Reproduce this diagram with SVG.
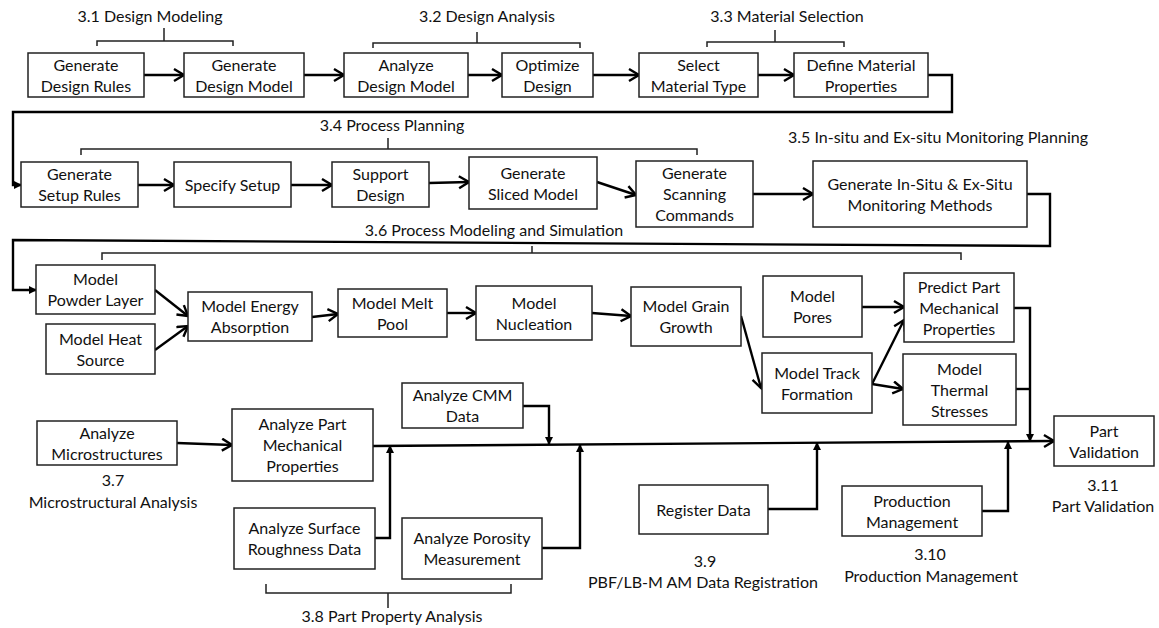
<svg xmlns="http://www.w3.org/2000/svg" width="1159" height="628" viewBox="0 0 1159 628">
<style>
.box{fill:#fff;stroke:#222;stroke-width:1.5}
text{font-family:Lato,"Open Sans",sans-serif;font-size:16px;fill:#111;text-anchor:middle}
.c{fill:none;stroke:#000;stroke-width:2.4}
.ca{fill:none;stroke:#000;stroke-width:2.4;marker-end:url(#ah)}
.cs{fill:none;stroke:#000;stroke-width:2.4;marker-end:url(#as)}
.br{fill:none;stroke:#222;stroke-width:1.5}
</style>
<defs>
<marker id="ah" markerUnits="userSpaceOnUse" markerWidth="14" markerHeight="16" refX="11" refY="7" orient="auto">
<path d="M1,1 L11,7 L1,13" fill="none" stroke="#000" stroke-width="2.4"/>
</marker>
<marker id="as" markerUnits="userSpaceOnUse" markerWidth="10" markerHeight="10" refX="7" refY="4" orient="auto">
<path d="M0,0 L8,4 L0,8 Z" fill="#000"/>
</marker>
</defs>
<rect width="1159" height="628" fill="#fff"/>

<g id="connectors">
<line class="ca" x1="144" y1="75" x2="184" y2="75"/>
<line class="ca" x1="304" y1="75" x2="344" y2="75"/>
<line class="ca" x1="468" y1="75" x2="502" y2="75"/>
<line class="ca" x1="593" y1="75" x2="639" y2="75"/>
<line class="ca" x1="758" y1="75" x2="794" y2="75"/>
<polyline class="cs" points="928,75 952,75 952,112 13,112 13,185 21,185"/>
<line class="ca" x1="138" y1="185" x2="174" y2="185"/>
<line class="ca" x1="291" y1="185" x2="332" y2="185"/>
<line class="ca" x1="429" y1="183" x2="469" y2="182"/>
<line class="ca" x1="597" y1="182" x2="636" y2="195"/>
<line class="ca" x1="753" y1="194" x2="813" y2="194"/>
<polyline class="cs" points="1027,194 1050,194 1050,246 13,240 13,290 36,290"/>
<line class="ca" x1="155" y1="290" x2="188" y2="316"/>
<line class="ca" x1="155" y1="350" x2="188" y2="326"/>
<line class="ca" x1="312" y1="317" x2="338" y2="314"/>
<line class="ca" x1="447" y1="313" x2="476" y2="313"/>
<line class="ca" x1="592" y1="313" x2="631" y2="316"/>
<line class="ca" x1="741" y1="316" x2="761" y2="388"/>
<line class="ca" x1="862" y1="307" x2="904" y2="307"/>
<line class="ca" x1="872" y1="384" x2="904" y2="320"/>
<line class="ca" x1="872" y1="384" x2="903" y2="389"/>
<polyline class="cs" points="1014,308 1030,308 1030,441"/>
<polyline class="c" points="1016,389 1030,389"/>
<line class="ca" x1="373" y1="446" x2="1054" y2="441"/>
<line class="ca" x1="177" y1="443" x2="232" y2="445"/>
<polyline class="cs" points="375,538 390,538 390,446"/>
<polyline class="cs" points="523,406 549,406 549,444"/>
<polyline class="cs" points="542,548 580,548 580,445"/>
<polyline class="cs" points="768,509 817,509 817,443"/>
<polyline class="cs" points="982,511 1008,511 1008,442"/>
</g>

<g id="groups">
<path class="br" d="M97,46 V41 H233 V46 M164,41 V28"/>
<text x="150" y="22">3.1 Design Modeling</text>
<path class="br" d="M373,48 V43 H580 V48 M477,43 V32"/>
<text x="487" y="22">3.2 Design Analysis</text>
<path class="br" d="M707,47 V42 H844 V47 M775,42 V30"/>
<text x="787" y="22">3.3 Material Selection</text>
<path class="br" d="M81,155 V149 H697 V155 M388,149 V138"/>
<text x="392" y="131">3.4 Process Planning</text>
<text x="938" y="143">3.5 In-situ and Ex-situ Monitoring Planning</text>
<path class="br" d="M102,260 V253 H961 V260 M532,253 V246"/>
<text x="494" y="236">3.6 Process Modeling and Simulation</text>
<text x="113" y="486">3.7</text>
<text x="113" y="508">Microstructural Analysis</text>
<path class="br" d="M266,584 V593 H511 V584 M388,593 V608"/>
<text x="392" y="622">3.8 Part Property Analysis</text>
<text x="705" y="567">3.9</text>
<text x="703" y="588">PBF/LB-M AM Data Registration</text>
<text x="930" y="560">3.10</text>
<text x="931" y="582">Production Management</text>
<text x="1103" y="491">3.11</text>
<text x="1103" y="512">Part Validation</text>
</g>

<g id="n1"><rect class="box" x="28" y="53" width="116" height="44"/><text x="86" y="70.5">Generate</text><text x="86" y="91.5">Design Rules</text></g>
<g id="n2"><rect class="box" x="184" y="53" width="120" height="44"/><text x="244" y="70.5">Generate</text><text x="244" y="91.5">Design Model</text></g>
<g id="n3"><rect class="box" x="344" y="53" width="124" height="44"/><text x="406" y="70.5">Analyze</text><text x="406" y="91.5">Design Model</text></g>
<g id="n4"><rect class="box" x="502" y="53" width="91" height="44"/><text x="547.5" y="70.5">Optimize</text><text x="547.5" y="91.5">Design</text></g>
<g id="n5"><rect class="box" x="639" y="53" width="119" height="44"/><text x="698.5" y="70.5">Select</text><text x="698.5" y="91.5">Material Type</text></g>
<g id="n6"><rect class="box" x="794" y="53" width="134" height="44"/><text x="861" y="70.5">Define Material</text><text x="861" y="91.5">Properties</text></g>

<g id="n7"><rect class="box" x="21" y="162" width="117" height="45"/><text x="79.5" y="180">Generate</text><text x="79.5" y="201">Setup Rules</text></g>
<g id="n8"><rect class="box" x="174" y="162" width="117" height="45"/><text x="232.5" y="190.5">Specify Setup</text></g>
<g id="n9"><rect class="box" x="332" y="162" width="97" height="45"/><text x="380.5" y="180">Support</text><text x="380.5" y="201">Design</text></g>
<g id="n10"><rect class="box" x="469" y="157" width="128" height="52"/><text x="533" y="178.5">Generate</text><text x="533" y="199.5">Sliced Model</text></g>
<g id="n11"><rect class="box" x="636" y="161" width="117" height="66"/><text x="694.5" y="179">Generate</text><text x="694.5" y="200">Scanning</text><text x="694.5" y="221">Commands</text></g>
<g id="n12"><rect class="box" x="813" y="161" width="214" height="66"/><text x="920" y="189.5">Generate In-Situ &amp; Ex-Situ</text><text x="920" y="210.5">Monitoring Methods</text></g>

<g id="n13"><rect class="box" x="36" y="265" width="119" height="49"/><text x="95.5" y="285">Model</text><text x="95.5" y="306">Powder Layer</text></g>
<g id="n14"><rect class="box" x="46" y="324" width="109" height="50"/><text x="100.5" y="344.5">Model Heat</text><text x="100.5" y="365.5">Source</text></g>
<g id="n15"><rect class="box" x="188" y="292" width="124" height="49"/><text x="250" y="312">Model Energy</text><text x="250" y="333">Absorption</text></g>
<g id="n16"><rect class="box" x="338" y="289" width="109" height="48"/><text x="392.5" y="308.5">Model Melt</text><text x="392.5" y="329.5">Pool</text></g>
<g id="n17"><rect class="box" x="476" y="286" width="116" height="54"/><text x="534" y="308.5">Model</text><text x="534" y="329.5">Nucleation</text></g>
<g id="n18"><rect class="box" x="631" y="287" width="110" height="59"/><text x="686" y="312">Model Grain</text><text x="686" y="333">Growth</text></g>
<g id="n19"><rect class="box" x="763" y="276" width="99" height="61"/><text x="812.5" y="302">Model</text><text x="812.5" y="323">Pores</text></g>
<g id="n20"><rect class="box" x="904" y="273" width="110" height="69"/><text x="959" y="292.5">Predict Part</text><text x="959" y="313.5">Mechanical</text><text x="959" y="334.5">Properties</text></g>
<g id="n21"><rect class="box" x="762" y="353" width="110" height="60"/><text x="817" y="378.5">Model Track</text><text x="817" y="399.5">Formation</text></g>
<g id="n22"><rect class="box" x="903" y="354" width="113" height="71"/><text x="959.5" y="374.5">Model</text><text x="959.5" y="395.5">Thermal</text><text x="959.5" y="416.5">Stresses</text></g>
<g id="n23"><rect class="box" x="1054" y="416" width="100" height="50"/><text x="1104" y="436.5">Part</text><text x="1104" y="457.5">Validation</text></g>

<g id="n24"><rect class="box" x="37" y="421" width="140" height="44"/><text x="107" y="438.5">Analyze</text><text x="107" y="459.5">Microstructures</text></g>
<g id="n25"><rect class="box" x="232" y="409" width="141" height="72"/><text x="302.5" y="430">Analyze Part</text><text x="302.5" y="451">Mechanical</text><text x="302.5" y="472">Properties</text></g>
<g id="n26"><rect class="box" x="402" y="383" width="121" height="45"/><text x="462.5" y="401">Analyze CMM</text><text x="462.5" y="422">Data</text></g>
<g id="n27"><rect class="box" x="234" y="508" width="141" height="61"/><text x="304.5" y="534">Analyze Surface</text><text x="304.5" y="555">Roughness Data</text></g>
<g id="n28"><rect class="box" x="402" y="518" width="140" height="61"/><text x="472" y="544">Analyze Porosity</text><text x="472" y="565">Measurement</text></g>
<g id="n29"><rect class="box" x="639" y="485" width="129" height="49"/><text x="703.5" y="515.5">Register Data</text></g>
<g id="n30"><rect class="box" x="842" y="486" width="140" height="50"/><text x="912" y="506.5">Production</text><text x="912" y="527.5">Management</text></g>
</svg>
